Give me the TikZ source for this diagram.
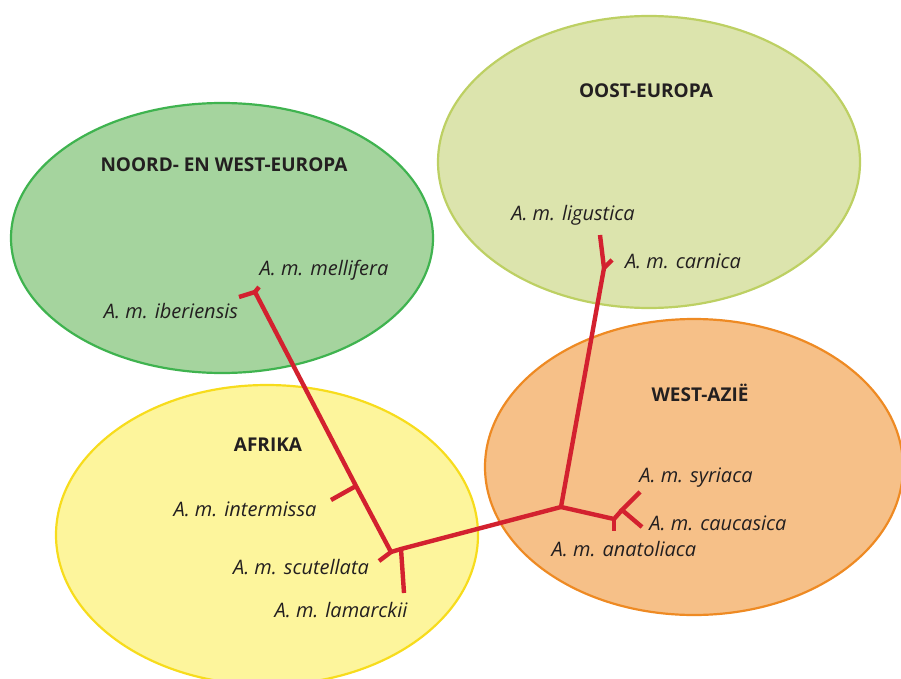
\documentclass[tikz,border=0pt]{standalone}
\usepackage{fontspec}
\setmainfont{Open Sans}
\usetikzlibrary{shapes.geometric}
\definecolor{nwfill}{HTML}{A5D49E}
\definecolor{nwline}{HTML}{3FB34F}
\definecolor{oefill}{HTML}{DCE4AD}
\definecolor{oeline}{HTML}{BDD063}
\definecolor{affill}{HTML}{FDF59C}
\definecolor{afline}{HTML}{F7DC1C}
\definecolor{wafill}{HTML}{F6C088}
\definecolor{waline}{HTML}{EE8A23}
\definecolor{treered}{HTML}{D3212F}
\definecolor{txt}{HTML}{231F20}
\tikzset{
  region/.style={ellipse, line width=2.2pt, inner sep=0pt, outer sep=0pt},
  regionlabel/.style={font=\fontsize{19}{19}\selectfont\bfseries, text=txt, inner sep=0pt},
  species/.style={font=\fontsize{20}{20}\selectfont\itshape, text=txt, inner sep=0pt},
  branch/.style={draw=treered, line width=4.4pt, line cap=butt, line join=miter}
}
\begin{document}
\begin{tikzpicture}[x=1pt,y=-1pt]
\useasboundingbox (0,0) rectangle (901,679);
% regions
\node[region, fill=nwfill, draw=nwline, minimum width=422pt, minimum height=270pt] (nw) at (222,238) {};
\node[region, fill=oefill, draw=oeline, minimum width=422pt, minimum height=292pt] (oe) at (649,162) {};
\node[region, fill=affill, draw=afline, minimum width=422pt, minimum height=300pt] (af) at (267,535) {};
\node[region, fill=wafill, draw=waline, minimum width=418pt, minimum height=296pt] (wa) at (694,467) {};
% region labels
\node[regionlabel] (nwl) at (224,165) {NOORD- EN WEST-EUROPA};
\node[regionlabel] (oel) at (646,91) {OOST-EUROPA};
\node[regionlabel] (afl) at (268,445) {AFRIKA};
\node[regionlabel] (wal) at (700,393) {WEST-AZIË};
% species labels
\node[species] (mel) at (324,270) {A. m. mellifera};
\node[species] (ibe) at (171,311) {A. m. iberiensis};
\node[species] (lig) at (573,215) {A. m. ligustica};
\node[species] (car) at (683,261) {A. m. carnica};
\node[species] (int) at (245,509) {A. m. intermissa};
\node[species] (scu) at (301,567) {A. m. scutellata};
\node[species] (lam) at (341,610) {A. m. lamarckii};
\node[species] (syr) at (696,478) {A. m. syriaca};
\node[species] (cau) at (718,523) {A. m. caucasica};
\node[species] (ana) at (624,549) {A. m. anatoliaca};
% tree points
\coordinate (j1) at (255,292);
\coordinate (ibetip) at (239,297);
\coordinate (meltip) at (259,287);
\coordinate (j2) at (391,552);
\coordinate (intj) at (356,486);
\coordinate (inttip) at (331,500);
\coordinate (scutip) at (379,561);
\coordinate (j3) at (401,549);
\coordinate (lamtip) at (404,593);
\coordinate (j4) at (561,507);
\coordinate (ligj) at (604,268);
\coordinate (ligtip) at (600,235);
\coordinate (cartip) at (612,260);
\coordinate (j5) at (614,519);
\coordinate (anatip) at (614,531);
\coordinate (j6) at (622,510);
\coordinate (syrtip) at (640,492);
\coordinate (cautip) at (642,527);
% tree
\draw[branch] (ibetip) -- (j1) -- (meltip);
\draw[branch] (j1) -- (intj) -- (j2);
\draw[branch] (intj) -- (inttip);
\draw[branch] (scutip) -- (j2) -- (j3) -- (j4);
\draw[branch] (j3) -- (lamtip);
\draw[branch] (ligtip) -- (ligj) -- (j4);
\draw[branch] (ligj) -- (cartip);
\draw[branch] (j4) -- (j5) -- (j6);
\draw[branch] (j5) -- (anatip);
\draw[branch] (syrtip) -- (j6) -- (cautip);
\end{tikzpicture}
\end{document}
